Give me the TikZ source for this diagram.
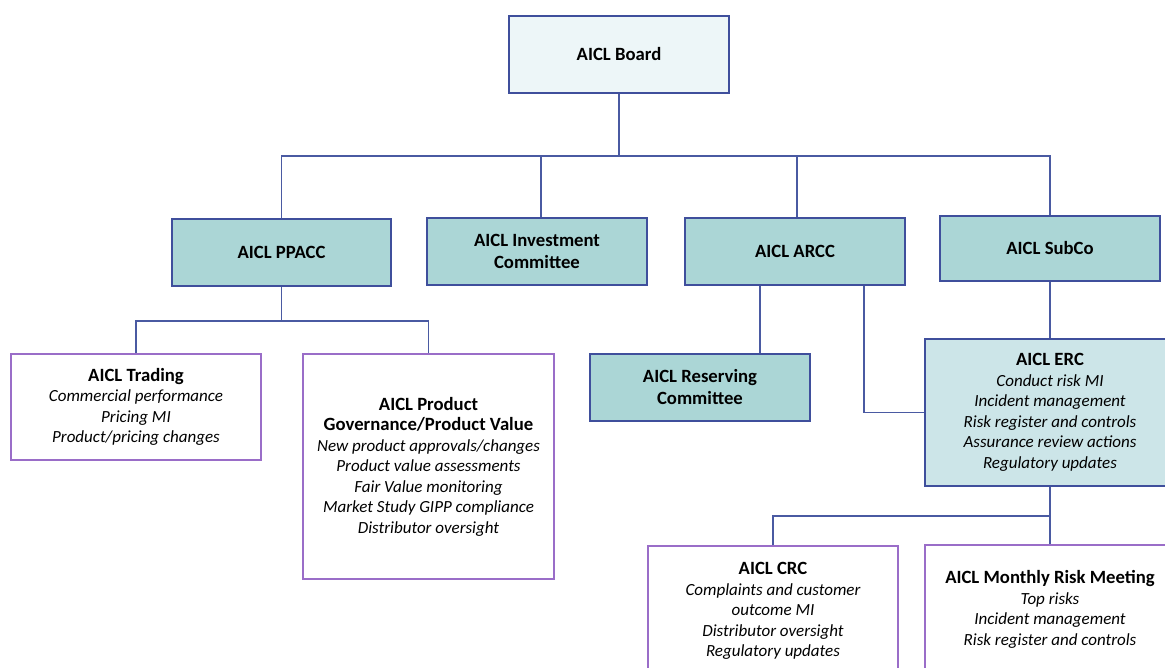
\documentclass[tikz,border=0pt]{standalone}
\usepackage{fontspec}
\setmainfont{Carlito}
\definecolor{linec}{HTML}{4A5AA2}
\definecolor{bordc}{HTML}{3F4F9C}
\definecolor{purp}{HTML}{9A6DC8}
\definecolor{teal1}{HTML}{ABD6D6}
\definecolor{boardf}{HTML}{EDF6F8}
\definecolor{ercf}{HTML}{CCE5E8}
\newcommand{\ttl}[1]{{\fontsize{18.7}{20.5}\selectfont\upshape\bfseries #1}}
\tikzset{
  conn/.style={draw=linec, line width=1.3pt},
  tealbox/.style={draw=bordc, line width=1.5pt, fill=teal1, align=center, inner sep=0pt,
     font=\fontsize{18.7}{22}\selectfont\bfseries},
  whitebox/.style={draw=purp, line width=1.5pt, fill=white, align=center, inner sep=0pt,
     font=\fontsize{17}{20.5}\selectfont\itshape},
}
\begin{document}
\begin{tikzpicture}[x=1pt,y=-1pt]
\useasboundingbox (0,0) rectangle (1165,668);
\clip (0,0) rectangle (1165,668);
\fill[white] (0,0) rectangle (1165,668);
% boxes
\node[tealbox, fill=boardf, minimum width=220pt, minimum height=77pt] (board) at (619,54.5) {AICL Board};
\node[tealbox, minimum width=219pt, minimum height=67pt] (ppacc) at (281.5,252.5) {AICL PPACC};
\node[tealbox, minimum width=220pt, minimum height=67pt] (invest) at (537,251.5) {AICL Investment\\Committee};
\node[tealbox, minimum width=220pt, minimum height=67pt] (arcc) at (795,251.5) {AICL ARCC};
\node[tealbox, minimum width=220pt, minimum height=65pt] (subco) at (1050,248.5) {AICL SubCo};
\node[whitebox, minimum width=250pt, minimum height=106pt] (trading) at (136,407) {\ttl{AICL Trading}\\Commercial performance\\Pricing MI\\Product/pricing changes};
\node[whitebox, minimum width=251pt, minimum height=225pt] (product) at (428.5,466.5) {\ttl{AICL Product}\\\ttl{Governance/Product Value}\\New product approvals/changes\\Product value assessments\\Fair Value monitoring\\Market Study GIPP compliance\\Distributor oversight};
\node[tealbox, minimum width=220pt, minimum height=67pt] (reserving) at (700,387.5) {AICL Reserving\\Committee};
\node[whitebox, draw=bordc, fill=ercf, minimum width=250pt, minimum height=147pt] (erc) at (1050,412.5) {\ttl{AICL ERC}\\Conduct risk MI\\Incident management\\Risk register and controls\\Assurance review actions\\Regulatory updates};
\node[whitebox, minimum width=250pt, minimum height=130pt] (crc) at (773,611) {\ttl{AICL CRC}\\Complaints and customer\\outcome MI\\Distributor oversight\\Regulatory updates};
\node[whitebox, minimum width=250pt, minimum height=129pt] (monthly) at (1050,609.5) {\ttl{AICL Monthly Risk Meeting}\\Top risks\\Incident management\\Risk register and controls};
% connectors
\coordinate (bus) at (619,156);
\draw[conn] (board.south) -- (bus);
\draw[conn] (ppacc.north) |- (bus);
\draw[conn] (subco.north) |- (bus);
\path (invest.north) ++(4,0) coordinate (i1);
\draw[conn] (i1) -- (i1 |- bus);
\path (arcc.north) ++(2,0) coordinate (r1);
\draw[conn] (r1) -- (r1 |- bus);
\coordinate (pb) at (281.5,321);
\draw[conn] (ppacc.south) -- (pb);
\draw[conn] (trading.north) |- (pb);
\draw[conn] (product.north) |- (pb);
\path (arcc.south) ++(-35,0) coordinate (a1);
\path (arcc.south) ++(69,0) coordinate (a2);
\draw[conn] (a1) -- (a1 |- reserving.north);
\draw[conn] (a2) |- (erc.west);
\draw[conn] (subco.south) -- (erc.north);
\coordinate (eb) at (1050,516);
\draw[conn] (erc.south) -- (monthly.north);
\draw[conn] (crc.north) |- (eb);
\end{tikzpicture}
\end{document}
